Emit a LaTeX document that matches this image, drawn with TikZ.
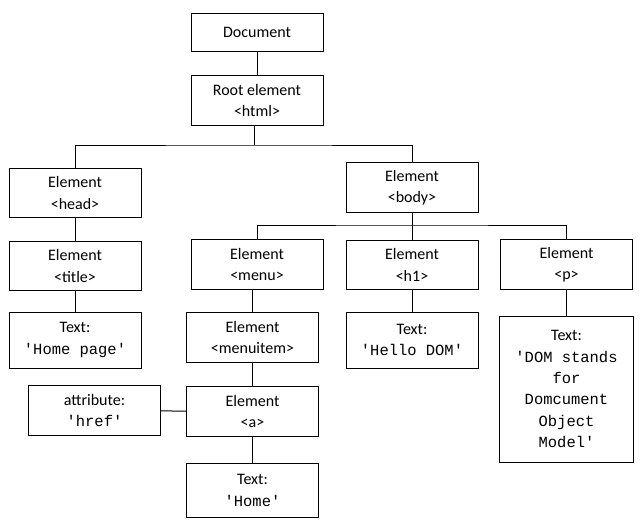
\documentclass[tikz,border=0pt]{standalone}
\usepackage{fontspec}
\setmainfont{Carlito}
\newfontfamily\codefont{Liberation Mono}
\newcommand{\code}[1]{{\codefont\fontsize{11.6}{16}\selectfont #1}}
\newcommand{\q}{\char39}

\begin{document}
\begin{tikzpicture}[x=0.75pt,y=-0.75pt,line width=0.75pt,
every node/.style={draw, align=center, font=\fontsize{12}{16}\selectfont, inner sep=0pt, minimum width=99pt, minimum height=37pt}]
\useasboundingbox (0,0) rectangle (642,529);
% top of the tree
\node[minimum height=29pt] (doc) at (257,32.5) {Document};
\node (root) at (257,100.5) {Root element\\<html>};
\node (head) at (75,193) {Element\\<head>};
\node (body) at (412,187.5) {Element\\<body>};
% head branch
\node (title) at (75,266) {Element\\<title>};
\node[minimum height=42pt] (hometitle) at (75,340) {Text:\\\code{\q Home page\q}};
% body branch
\node (menu) at (257,264.5) {Element\\<menu>};
\node (menuitem) at (252.5,337.5) {Element\\<menuitem>};
\node (a) at (252.5,411.5) {Element\\<a>};
\node[minimum height=38pt] (href) at (94.5,410.5) {attribute:\\\code{\q href\q}};
\node[minimum height=41pt] (home) at (252.5,490.5) {Text:\\\code{\q Home\q}};
\node (h1) at (412,265) {Element\\<h1>};
\node[minimum height=42pt] (hello) at (412,340) {Text:\\\code{\q Hello DOM\q}};
\node (p) at (566.5,264.5) {Element\\<p>};
\node[minimum width=100pt, minimum height=109.5pt] (domtext) at (566.5,389)
  {Text:\\\code{\q DOM stands}\\\code{for}\\\code{Domcument}\\\code{Object}\\\code{Model\q}};
% connectors
\coordinate (hbus) at (254,145);
\coordinate (bbus) at (412,225);
\draw (doc) -- (root);
\draw (root.south -| hbus) -- (hbus);
\draw (head.north) |- (hbus) -| (body.north);
\draw (head) -- (title);
\draw (title) -- (hometitle);
\draw (body) -- (h1);
\draw (menu.north) |- (bbus) -| (p.north);
\draw (menuitem.north |- menu.south) -- (menuitem.north);
\draw (menuitem) -- (a);
\draw (href) -- (a);
\draw (a) -- (home);
\draw (h1) -- (hello);
\draw (p) -- (domtext);
\end{tikzpicture}
\end{document}
